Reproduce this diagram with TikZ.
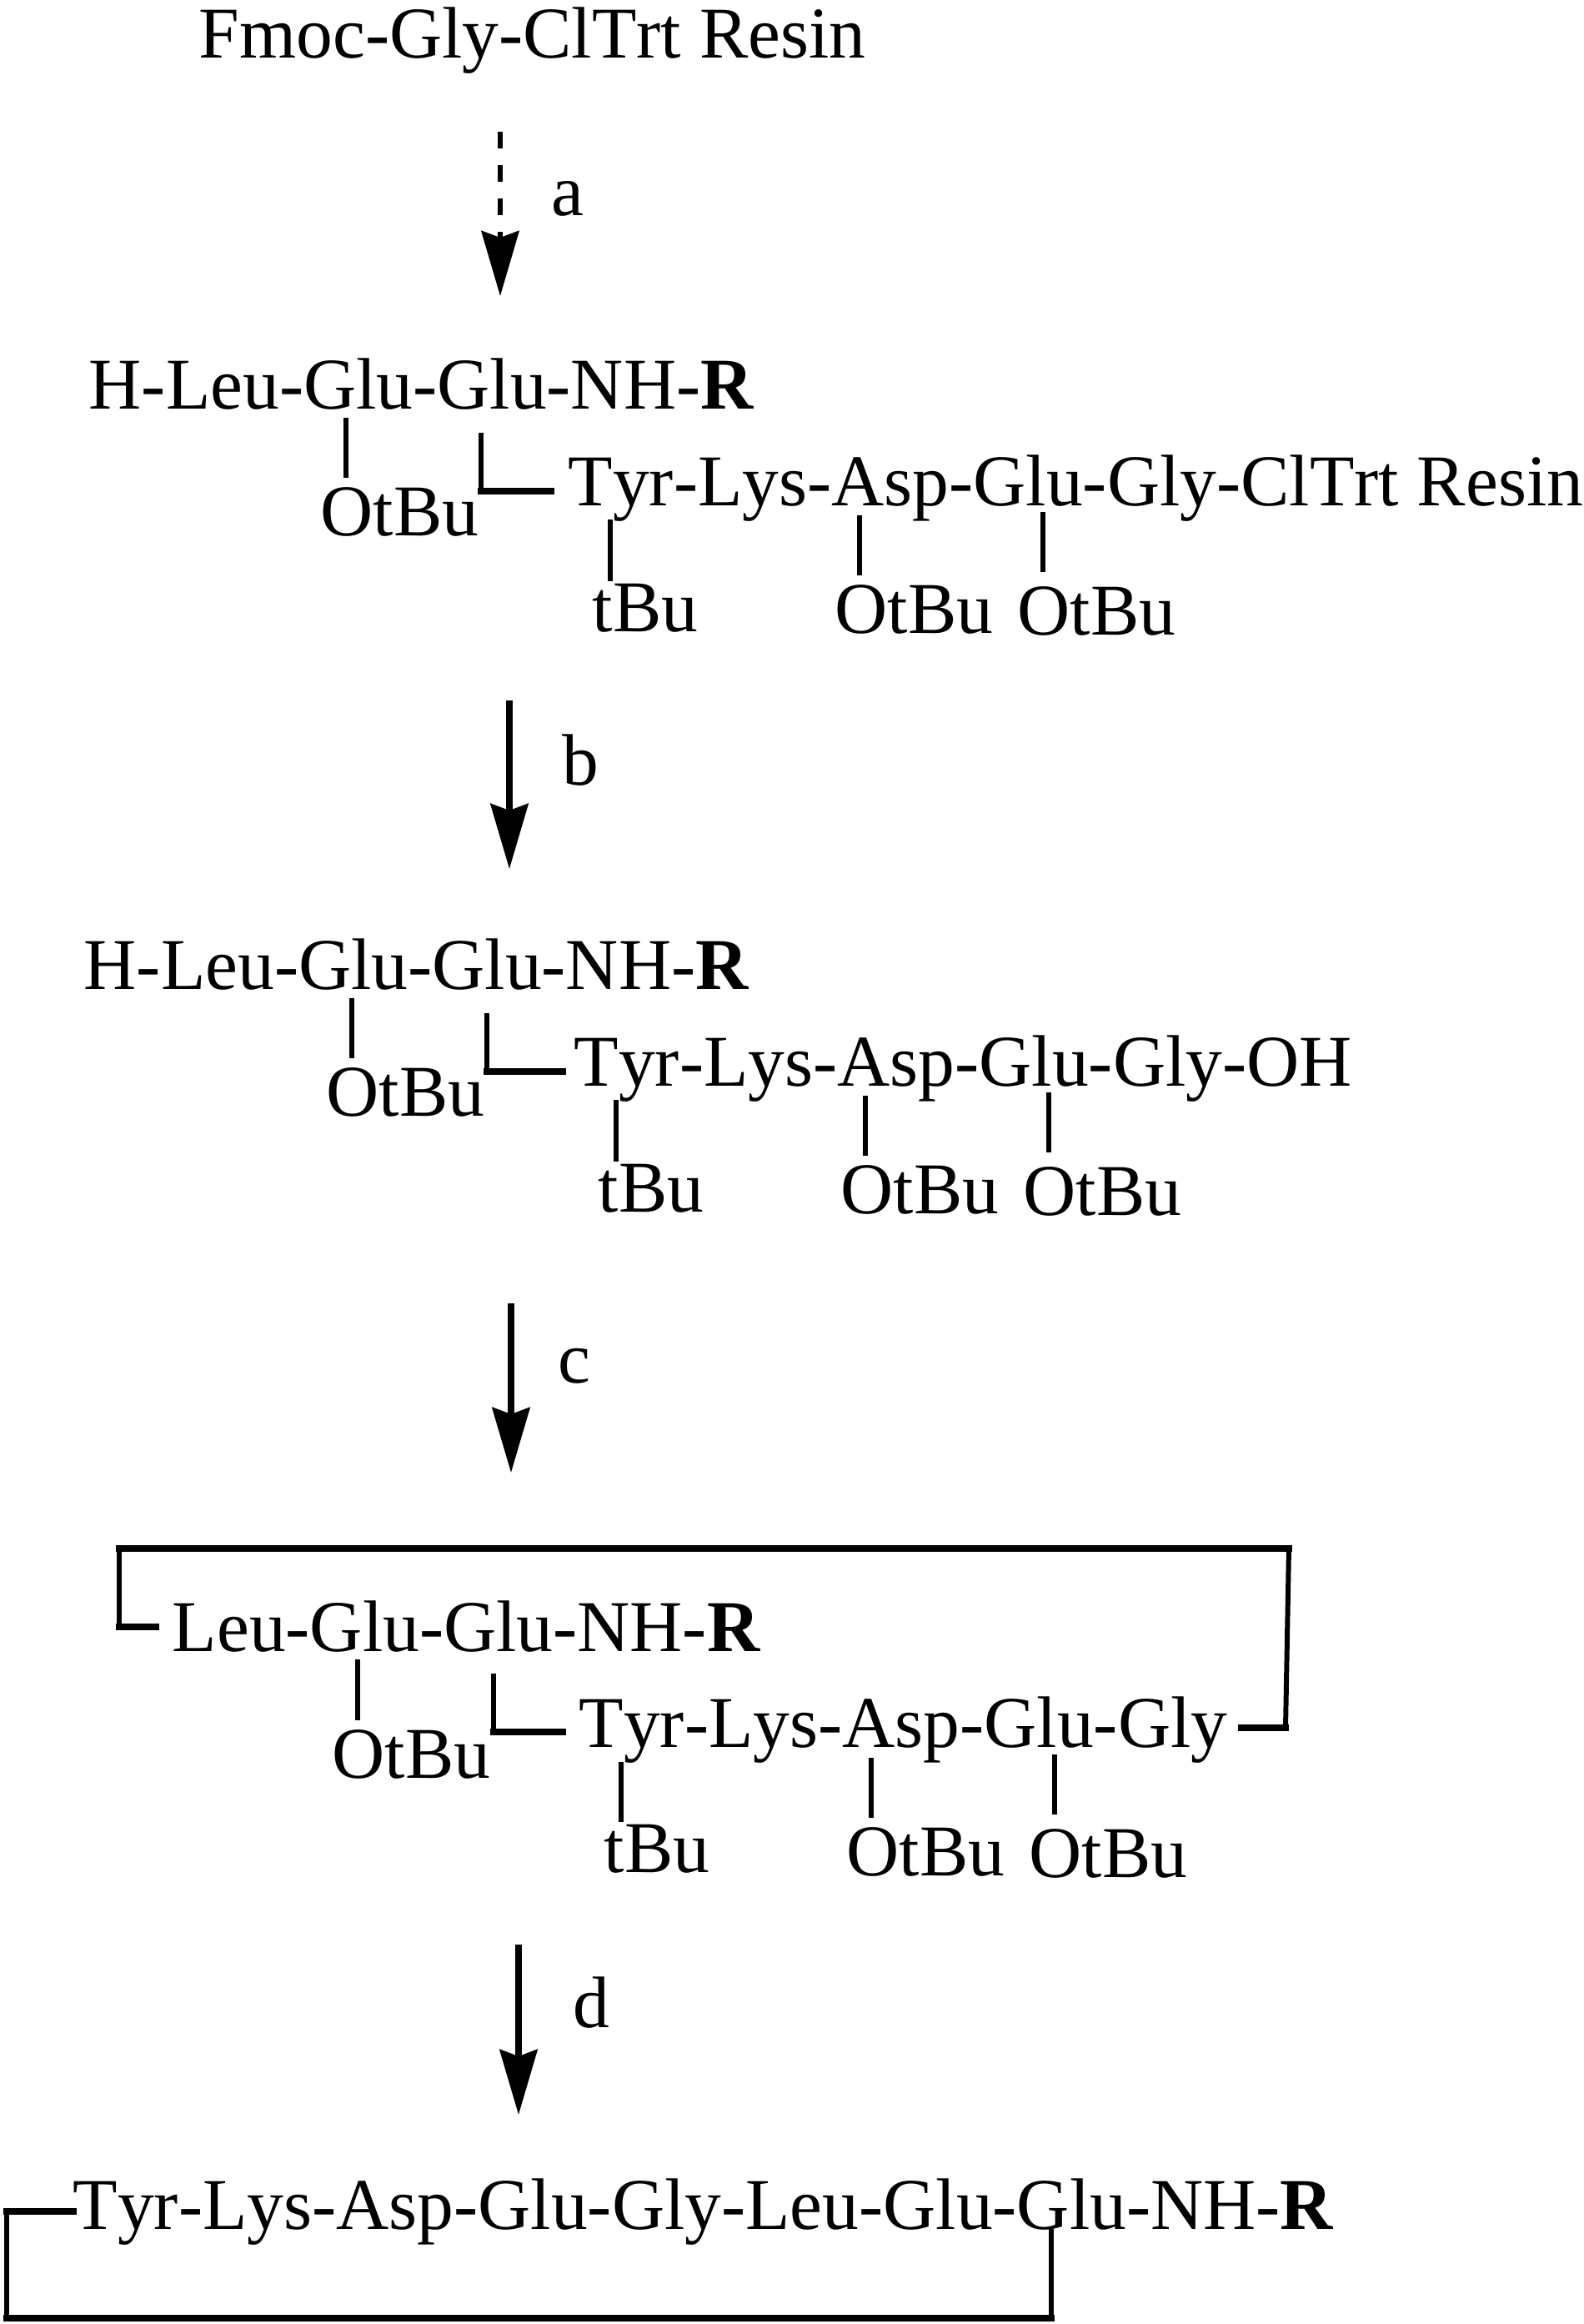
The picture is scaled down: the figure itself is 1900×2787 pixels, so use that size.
\documentclass[tikz,border=0pt]{standalone}
\usepackage{fontspec}
\setmainfont[Kerning=Off]{Liberation Serif}
\usetikzlibrary{arrows.meta}
\tikzset{
  chem/.style={anchor=base west, inner xsep=0pt, inner ysep=3pt, font=\fontsize{24.88}{30}\selectfont},
  bond/.style={line width=1.7pt},
  link/.style={line width=2.4pt, line cap=rect},
  reaction/.style={line width=2pt, -{Stealth[length=0.78cm, width=0.45cm, inset=0.08cm]}}
}

\begin{document}
\begin{tikzpicture}[x=0.01cm, y=-0.01cm]
        \useasboundingbox (0,0) rectangle (1900,2787);

        % Starting resin
        \node[chem] (fmoc) at (238,69) {Fmoc-Gly-ClTrt Resin};

        % Step a
        \coordinate (arrowa) at (600,158);
        \coordinate (tipa) at (600,355);
        \draw[reaction, line width=1.7pt, dash pattern=on 0.2cm off 0.2cm] (arrowa) -- (tipa);
        \node[chem] (labela) at (661,258) {a};

        % Linear peptide on resin
        \node[chem] (hleua) at (106,490) {H-Leu-Glu-Glu-NH-\textbf{R}};
        \node[chem] (otbua) at (384,642) {OtBu};
        \node[chem] (tyra) at (681,606) {Tyr-Lys-Asp-Glu-Gly-ClTrt Resin};
        \node[chem, inner ysep=0.7pt] (tbua) at (710,757) {tBu};
        \node[chem] (otbub) at (1001,759) {OtBu};
        \node[chem, inner ysep=4.7pt] (otbuc) at (1220,761) {OtBu};
        \coordinate (glua) at (415,501);
        \coordinate (elbowa) at (577,519);
        \coordinate (elbowenda) at (661,589);
        \coordinate (tyrbonda) at (732,623);
        \coordinate (aspbonda) at (1031,618);
        \coordinate (glubonda) at (1251,614);
        \draw[bond] (glua) -- (glua |- otbua.north);
        \draw[bond] (elbowa) -- (elbowa |- elbowenda);
        \draw[link] (elbowa |- elbowenda) -- (elbowenda);
        \draw[bond] (tyrbonda) -- (tyrbonda |- tbua.north);
        \draw[bond] (aspbonda) -- (aspbonda |- otbub.north);
        \draw[bond] (glubonda) -- (glubonda |- otbuc.north);

        % Step b
        \coordinate (arrowb) at (611,840);
        \coordinate (tipb) at (611,1042);
        \draw[reaction] (arrowb) -- (tipb);
        \node[chem] (labelb) at (674,941) {b};

        % Cleaved peptide
        \node[chem] (hleub) at (100,1186) {H-Leu-Glu-Glu-NH-\textbf{R}};
        \node[chem] (otbud) at (391,1338) {OtBu};
        \node[chem] (tyrb) at (688,1302) {Tyr-Lys-Asp-Glu-Gly-OH};
        \node[chem, inner ysep=0.7pt] (tbub) at (717,1453) {tBu};
        \node[chem] (otbue) at (1008,1455) {OtBu};
        \node[chem, inner ysep=4.7pt] (otbuf) at (1227,1457) {OtBu};
        \coordinate (glub) at (422,1197);
        \coordinate (elbowb) at (584,1215);
        \coordinate (elbowendb) at (675,1285);
        \coordinate (tyrbondb) at (739,1319);
        \coordinate (aspbondb) at (1038,1314);
        \coordinate (glubondb) at (1258,1310);
        \draw[bond] (glub) -- (glub |- otbud.north);
        \draw[bond] (elbowb) -- (elbowb |- elbowendb);
        \draw[link] (elbowb |- elbowendb) -- (elbowendb);
        \draw[bond] (tyrbondb) -- (tyrbondb |- tbub.north);
        \draw[bond] (aspbondb) -- (aspbondb |- otbue.north);
        \draw[bond] (glubondb) -- (glubondb |- otbuf.north);

        % Step c
        \coordinate (arrowc) at (613,1563);
        \coordinate (tipc) at (613,1766);
        \draw[reaction] (arrowc) -- (tipc);
        \node[chem] (labelc) at (669,1658) {c};

        % Cyclised peptide
        \node[chem] (leuc) at (206,1980) {Leu-Glu-Glu-NH-\textbf{R}};
        \node[chem] (otbug) at (398,2132) {OtBu};
        \node[chem] (tyrc) at (694,2095) {Tyr-Lys-Asp-Glu-Gly};
        \node[chem, inner ysep=0.7pt] (tbuc) at (724,2245) {tBu};
        \node[chem] (otbuh) at (1015,2249) {OtBu};
        \node[chem, inner ysep=4.7pt] (otbui) at (1234,2251) {OtBu};
        \coordinate (gluc) at (429,1990);
        \coordinate (elbowc) at (592,2007);
        \coordinate (elbowendc) at (675,2077);
        \coordinate (tyrbondc) at (745,2113);
        \coordinate (aspbondc) at (1045,2108);
        \coordinate (glubondc) at (1265,2104);
        \coordinate (ringstartc) at (187,1951);
        \coordinate (ringendc) at (1489,2072);
        \draw[bond] (gluc) -- (gluc |- otbug.north);
        \draw[bond] (elbowc) -- (elbowc |- elbowendc);
        \draw[link] (elbowc |- elbowendc) -- (elbowendc);
        \draw[bond] (tyrbondc) -- (tyrbondc |- tbuc.north);
        \draw[bond] (aspbondc) -- (aspbondc |- otbuh.north);
        \draw[bond] (glubondc) -- (glubondc |- otbui.north);
        \draw[link] (ringstartc) -- (143,1951);
        \draw[bond] (143,1951) -- (143,1857);
        \draw[link] (143,1857) -- (1546,1857);
        \draw[bond] (1546,1857) -- (1542,2072);
        \draw[link] (1542,2072) -- (ringendc);

        % Step d
        \coordinate (arrowd) at (622,2332);
        \coordinate (tipd) at (622,2536);
        \draw[reaction] (arrowd) -- (tipd);
        \node[chem] (labeld) at (687,2431) {d};

        % Final cyclic peptide
        \node[chem] (tyrd) at (87,2673) {Tyr-Lys-Asp-Glu-Gly-Leu-Glu-Glu-NH-\textbf{R}};
        \coordinate (ringstartd) at (88,2652);
        \coordinate (ringendd) at (1261,2673);
        \draw[link] (ringstartd) -- (8,2652);
        \draw[bond] (8,2652) -- (8,2780);
        \draw[link] (8,2780) -- (1261,2780);
        \draw[bond] (1261,2780) -- (ringendd);
    \end{tikzpicture}
\end{document}
